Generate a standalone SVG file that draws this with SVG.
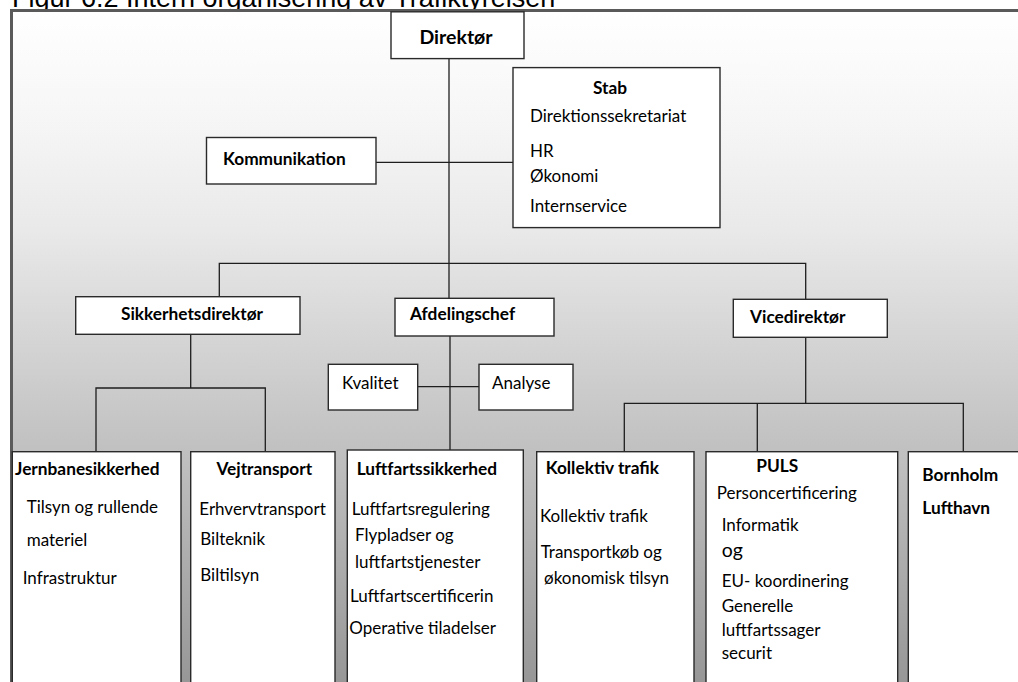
<svg xmlns="http://www.w3.org/2000/svg" width="1018" height="682" viewBox="0 0 1018 682">
<defs>
<linearGradient id="bg" gradientUnits="userSpaceOnUse" x1="0" y1="10" x2="0" y2="682">
<stop offset="0" stop-color="#ffffff"/>
<stop offset="0.164" stop-color="#f6f6f6"/>
<stop offset="0.327" stop-color="#e9e9e9"/>
<stop offset="0.625" stop-color="#c4c4c4"/>
<stop offset="1" stop-color="#979797"/>
</linearGradient>
<style>
.box{fill:#ffffff;stroke:#2a2a2a;stroke-width:1.4}
.con{fill:none;stroke:#1e1e1e;stroke-width:1.3}
.t{font-family:Lato,"Liberation Sans",sans-serif;font-size:17px;fill:#000}
.b{font-family:Lato,"Liberation Sans",sans-serif;font-size:17.3px;font-weight:bold;fill:#000}
.c{text-anchor:middle}
.title{font-family:"Liberation Sans",Arial,sans-serif;font-size:27px;fill:#000}
</style>
</defs>
<rect x="0" y="0" width="1018" height="682" fill="#ffffff"/>
<text class="title" x="12" y="6.5">Figur 6.2 Intern organisering av Trafiktyrelsen</text>
<rect x="11.5" y="10.5" width="1030" height="700" fill="url(#bg)" stroke="#5a5a5a" stroke-width="3"/>

<g id="connectors">
<path class="con" d="M449 58.6V298.3"/>
<path class="con" d="M376 162.3H513"/>
<path class="con" d="M219.3 296.7V263.3H805.7V299.3"/>
<path class="con" d="M190.7 334.3V388"/>
<path class="con" d="M96 451.7V388H265.3V451.7"/>
<path class="con" d="M450 336V450"/>
<path class="con" d="M417.7 386.7H479"/>
<path class="con" d="M805.7 337.3V403.3"/>
<path class="con" d="M624.3 451.7V403.3H963.3V451.7"/>
<path class="con" d="M757.3 403.3V451.7"/>
</g>

<g id="direktor">
<rect class="box" x="391" y="11.8" width="133" height="46.8"/>
<text class="b c" x="456" y="43.5" style="font-size:19.5px">Direktør</text>
</g>

<g id="kommunikation">
<rect class="box" x="206.5" y="137.5" width="169.5" height="46.5"/>
<text class="b" x="223" y="165">Kommunikation</text>
</g>

<g id="stab">
<rect class="box" x="513" y="67.6" width="207" height="160"/>
<text class="b c" x="610" y="93.5">Stab</text>
<text class="t" x="530" y="122">Direktionssekretariat</text>
<text class="t" x="530" y="156.5">HR</text>
<text class="t" x="530" y="182">Økonomi</text>
<text class="t" x="530" y="211.5">Internservice</text>
</g>

<g id="sikkerhetsdirektor">
<rect class="box" x="75.7" y="296.7" width="224.3" height="37.6"/>
<text class="b c" x="192" y="319.5">Sikkerhetsdirektør</text>
</g>

<g id="afdelingschef">
<rect class="box" x="395" y="298.3" width="159" height="37.7"/>
<text class="b" x="410" y="319.5">Afdelingschef</text>
</g>

<g id="vicedirektor">
<rect class="box" x="733.3" y="299.3" width="154" height="38"/>
<text class="b" x="750" y="323">Vicedirektør</text>
</g>

<g id="kvalitet">
<rect class="box" x="328.3" y="364.3" width="89.4" height="45.7"/>
<text class="t" x="342" y="388.5">Kvalitet</text>
</g>

<g id="analyse">
<rect class="box" x="479" y="364.3" width="94" height="45.7"/>
<text class="t" x="492" y="388.5">Analyse</text>
</g>

<g id="jernbanesikkerhed">
<rect class="box" x="12.3" y="451.7" width="168.7" height="240"/>
<text class="b" x="15" y="475">Jernbanesikkerhed</text>
<text class="t" x="26.7" y="512.5">Tilsyn og rullende</text>
<text class="t" x="26.7" y="546">materiel</text>
<text class="t" x="22.7" y="584">Infrastruktur</text>
</g>

<g id="vejtransport">
<rect class="box" x="190.7" y="451.7" width="144.3" height="240"/>
<text class="b c" x="264.3" y="475">Vejtransport</text>
<text class="t" x="199.3" y="515">Erhvervtransport</text>
<text class="t" x="200.3" y="545">Bilteknik</text>
<text class="t" x="200.3" y="580.5">Biltilsyn</text>
</g>

<g id="luftfartssikkerhed">
<rect class="box" x="347.3" y="450" width="176" height="240"/>
<text class="b" x="356.7" y="475">Luftfartssikkerhed</text>
<text class="t" x="351.7" y="515">Luftfartsregulering</text>
<text class="t" x="355" y="540.5">Flypladser og</text>
<text class="t" x="355" y="568">luftfartstjenester</text>
<text class="t" x="350" y="602">Luftfartscertificerin</text>
<text class="t" x="349.3" y="634">Operative tiladelser</text>
</g>

<g id="kollektiv-trafik">
<rect class="box" x="536.7" y="451.7" width="157.3" height="240"/>
<text class="b" x="545.7" y="474">Kollektiv trafik</text>
<text class="t" x="540" y="521.5">Kollektiv trafik</text>
<text class="t" x="540.7" y="558">Transportkøb og</text>
<text class="t" x="544" y="584">økonomisk tilsyn</text>
</g>

<g id="puls">
<rect class="box" x="706" y="451.7" width="191.7" height="240"/>
<text class="b c" x="777.3" y="472">PULS</text>
<text class="t" x="716.7" y="499">Personcertificering</text>
<text class="t" x="721.7" y="530.5">Informatik</text>
<text class="t" x="721.7" y="556.5" style="font-size:19.5px">og</text>
<text class="t" x="721.7" y="586.5">EU- koordinering</text>
<text class="t" x="721.7" y="611.5">Generelle</text>
<text class="t" x="721.7" y="636">luftfartssager</text>
<text class="t" x="721.7" y="658.5">securit</text>
</g>

<g id="bornholm-lufthavn">
<rect class="box" x="908.3" y="451.7" width="130" height="240"/>
<text class="b" x="922.3" y="480.5">Bornholm</text>
<text class="b" x="922.3" y="514">Lufthavn</text>
</g>
</svg>
